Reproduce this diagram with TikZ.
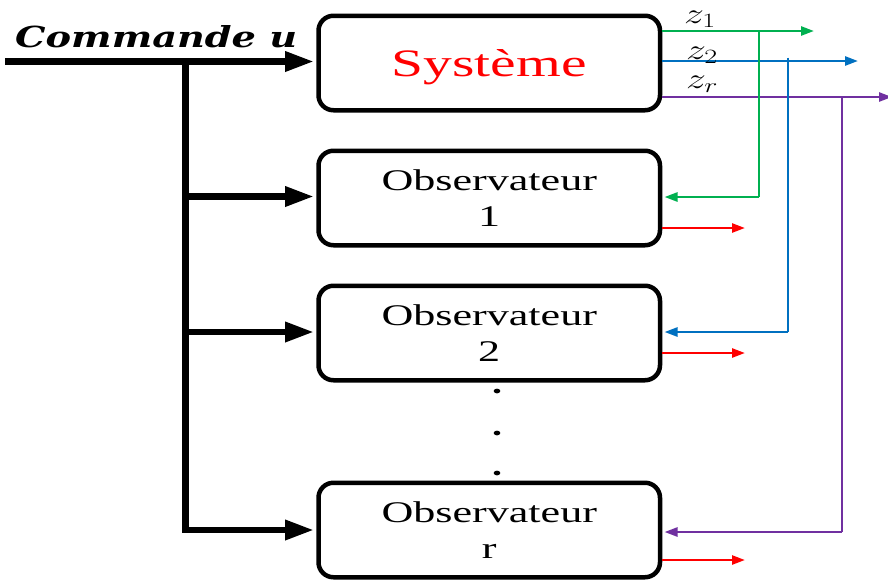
\RequirePackage{fix-cm}
\documentclass[tikz,border=0pt]{standalone}
\usepackage{fontspec}
\usepackage{graphicx}
\setmainfont{Liberation Serif}
\newfontfamily\cmdfont{DejaVu Serif}
\usetikzlibrary{arrows.meta,calc}
\definecolor{zgreen}{HTML}{00B050}
\definecolor{zblue}{HTML}{0070C0}
\definecolor{zpurple}{HTML}{7030A0}
\definecolor{zred}{HTML}{FF0000}
\newcommand{\hsc}[1]{\scalebox{1.47}[1]{#1}}
\newcommand{\zsc}[1]{\scalebox{1.38}[1]{#1}}
\begin{document}
\begin{tikzpicture}[x=1pt,y=-1pt,
  box/.style={draw,line width=4.5pt,rounded corners=15pt,minimum width=341.5pt,
    minimum height=94.5pt,inner sep=0pt,align=center},
  obsbox/.style={box,font=\fontsize{30}{36}\selectfont},
  bigarrow/.style={line width=6.5pt,-{Triangle[length=29pt,width=19pt]},shorten >=2.25pt},
  busline/.style={line width=7pt},
  sig/.style={line width=2.5pt,-{Triangle[length=13pt,width=9pt]}},
  sigline/.style={line width=2.5pt},
  zlab/.style={anchor=base west,inner sep=0pt,font=\fontsize{29}{29}\selectfont},
]
\useasboundingbox (0,0) rectangle (888,579);
\fill[white] (0,0) rectangle (888,579);

% boxes
\node[box,text depth=0pt] (sys) at (489.25,63)
  {\textcolor{zred}{\resizebox{195pt}{27pt}{Système}}};
\node[obsbox] (o1) at (489.25,198) {\hsc{Observateur}\\\hsc{1}};
\node[obsbox] (o2) at (489.25,333) {\hsc{Observateur}\\\hsc{2}};
\node[obsbox] (or) at (489.25,530) {\hsc{Observateur}\\\hsc{r}};

% command label
\node[anchor=base west,inner sep=0pt] (cmd) at (15,47)
  {\resizebox{282pt}{22pt}{\cmdfont\bfseries\itshape Commande u}};

% input and bus
\coordinate (in) at (5,61.5);
\coordinate (bt) at (185.5,61.5);
\coordinate (bb) at (185.5,533.25);
\coordinate (b1) at (185.5,196.5);
\coordinate (b2) at (185.5,332);
\coordinate (br) at (185.5,530);
\draw[busline] (bt) -- (bb);
\draw[bigarrow] (in) -- (in -| sys.west);
\draw[bigarrow] (b1) -- (b1 -| o1.west);
\draw[bigarrow] (b2) -- (b2 -| o2.west);
\draw[bigarrow] (br) -- (br -| or.west);

% outputs of the system
\coordinate (z1s) at (sys.east |- 0,31);
\coordinate (z1e) at (814,31);
\coordinate (z2s) at (sys.east |- 0,61);
\coordinate (z2e) at (858,61);
\coordinate (zrs) at (sys.east |- 0,97);
\coordinate (zre) at (892,97);
\draw[sig,zgreen] (z1s) -- (z1e);
\draw[sig,zblue] (z2s) -- (z2e);
\draw[sig,zpurple] (zrs) -- (zre);

\node[zlab] (lz1) at (684,23) {\zsc{$z_1$}};
\node[zlab] (lz2) at (686,59) {\zsc{$z_2$}};
\node[zlab] (lzr) at (686,88) {\zsc{$z_r$}};

% feedback to observers
\coordinate (g1) at (759,31);
\coordinate (g2) at (759,197);
\coordinate (g3) at ($(o1.east |- g2)+(2.25,0)$);
\draw[sigline,zgreen] (g1) -- (g2);
\draw[sig,zgreen] (g2) -- (g3);

\coordinate (bl1) at (788,57.5);
\coordinate (bl2) at (788,332);
\coordinate (bl3) at ($(o2.east |- bl2)+(2.25,0)$);
\draw[sigline,zblue] (bl1) -- (bl2);
\draw[sig,zblue] (bl2) -- (bl3);

\coordinate (p1) at (842,97);
\coordinate (p2) at (842,532);
\coordinate (p3) at ($(or.east |- p2)+(2.25,0)$);
\draw[sigline,zpurple] (p1) -- (p2);
\draw[sig,zpurple] (p2) -- (p3);

% observer outputs
\coordinate (r1) at (o1.east |- 0,228);
\coordinate (r1e) at (745,228);
\coordinate (r2) at (o2.east |- 0,353);
\coordinate (r2e) at (745,353);
\coordinate (r3) at (or.east |- 0,560);
\coordinate (r3e) at (745,560);
\draw[sig,zred] (r1) -- (r1e);
\draw[sig,zred] (r2) -- (r2e);
\draw[sig,zred] (r3) -- (r3e);

% dots
\fill (497,391) ellipse [x radius=3.3pt, y radius=2.4pt];
\fill (497,433) ellipse [x radius=3.3pt, y radius=2.4pt];
\fill (497,473) ellipse [x radius=3.3pt, y radius=2.4pt];
\end{tikzpicture}
\end{document}
